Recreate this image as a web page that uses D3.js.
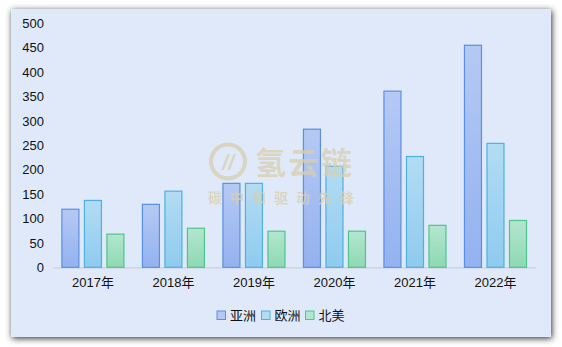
<!DOCTYPE html>
<html><head><meta charset="utf-8">
<script src="https://cdn.jsdelivr.net/npm/d3@7/dist/d3.min.js"></script>
<style>html,body{margin:0;padding:0;background:#fff;}svg{display:block;}</style>
</head><body><svg id="c" width="562" height="347"></svg>
<script>
const categories = ["2017年","2018年","2019年","2020年","2021年","2022年"];
const seriesNames = ["亚洲","欧洲","北美"];
const asia = [119, 129, 172, 283, 361, 455];
const europe = [137, 156, 172, 207, 227, 254];
const northAmerica = [68, 80, 74, 74, 86, 96];
const yTicks = [0,50,100,150,200,250,300,350,400,450,500];

const svg = d3.select("#c");
const defs = svg.append("defs");
const f = defs.append("filter").attr("id","sh").attr("x","-10%").attr("y","-10%").attr("width","120%").attr("height","120%");
f.append("feDropShadow").attr("dx",1).attr("dy",1.5).attr("stdDeviation",3).attr("flood-color","#333").attr("flood-opacity",1);

const styles = [
  {top:"#b5c9f4", bot:"#93b2ef", stroke:"#5a8fe2"},
  {top:"#b3dcf3", bot:"#8ecbef", stroke:"#4fb0e2"},
  {top:"#b3e6cf", bot:"#8ed9b2", stroke:"#4dc58c"}
];
styles.forEach((s,i)=>{
  const g = defs.append("linearGradient").attr("id","g"+i).attr("x1",0).attr("y1",0).attr("x2",0).attr("y2",1);
  g.append("stop").attr("offset","0%").attr("stop-color",s.top);
  g.append("stop").attr("offset","100%").attr("stop-color",s.bot);
});

svg.append("rect").attr("x",11).attr("y",9).attr("width",540).attr("height",328)
  .attr("fill","#dfe9f9").attr("filter","url(#sh)");

const x0 = d3.scaleBand().domain(categories).range([52.7,535.7]).paddingInner(0.217).paddingOuter(0.108);
const x1 = d3.scaleBand().domain(seriesNames).range([0,x0.bandwidth()]).paddingInner(0.2);
const y = d3.scaleLinear().domain([0,500]).range([267.3,23.3]);

const data = [asia, europe, northAmerica];

// y axis labels
const ya = svg.append("g").attr("transform","translate(44,0)")
  .call(d3.axisLeft(y).tickValues(yTicks).tickSize(0).tickPadding(0));
ya.select(".domain").remove();
ya.selectAll("text").attr("font-size",13).attr("font-family","Liberation Sans, Arial").attr("fill","#111");

// x axis
const xa = svg.append("g").attr("transform","translate(0,267.3)")
  .call(d3.axisBottom(x0).tickSize(0).tickPadding(10).tickSizeOuter(0));
xa.select(".domain").attr("stroke","#c9d0dc").attr("stroke-width",1.2);
xa.selectAll("text").attr("font-size",13).attr("font-family","Liberation Sans, Arial, Noto Sans CJK SC").attr("fill","#111");

seriesNames.forEach((s,si)=>{
  svg.append("g").selectAll("rect").data(data[si]).join("rect")
    .attr("x",(d,i)=>x0(categories[i])+x1(s)+0.5)
    .attr("y",d=>y(d))
    .attr("width",x1.bandwidth()-1)
    .attr("height",d=>y(0)-y(d))
    .attr("fill","url(#g"+si+")")
    .attr("stroke",styles[si].stroke).attr("stroke-width",1.2);
});

// watermark (on top)
const wc = "#d9cfae";
const wm = svg.append("g").attr("fill",wc).attr("opacity",0.75);
wm.append("circle").attr("cx",228).attr("cy",161.5).attr("r",17).attr("fill","none").attr("stroke",wc).attr("stroke-width",4);
wm.append("text").attr("x",228).attr("y",170).attr("text-anchor","middle").attr("font-size",22).attr("font-weight","bold").attr("font-style","italic").attr("font-family","Liberation Sans, Arial").text("//");
wm.append("text").attr("x",255).attr("y",174).attr("font-size",31).attr("font-weight","bold").attr("letter-spacing",2).attr("font-family","Noto Sans CJK SC").text("氢云链");
wm.append("text").attr("x",208).attr("y",203).attr("font-size",14).attr("font-weight","bold").attr("letter-spacing",8).attr("font-family","Noto Sans CJK SC").text("碳中和驱动先锋");

// legend
const legX = [217, 261.5, 305.5];
const lg = svg.append("g");
seriesNames.forEach((s,i)=>{
  lg.append("rect").attr("x",legX[i]).attr("y",311).attr("width",8.5).attr("height",8.5)
    .attr("fill",styles[i].top).attr("stroke",styles[i].stroke).attr("stroke-width",1);
  lg.append("text").attr("x",legX[i]+13).attr("y",320).attr("font-size",13)
    .attr("font-family","Noto Sans CJK SC").attr("fill","#111").text(s);
});
</script></body></html>
